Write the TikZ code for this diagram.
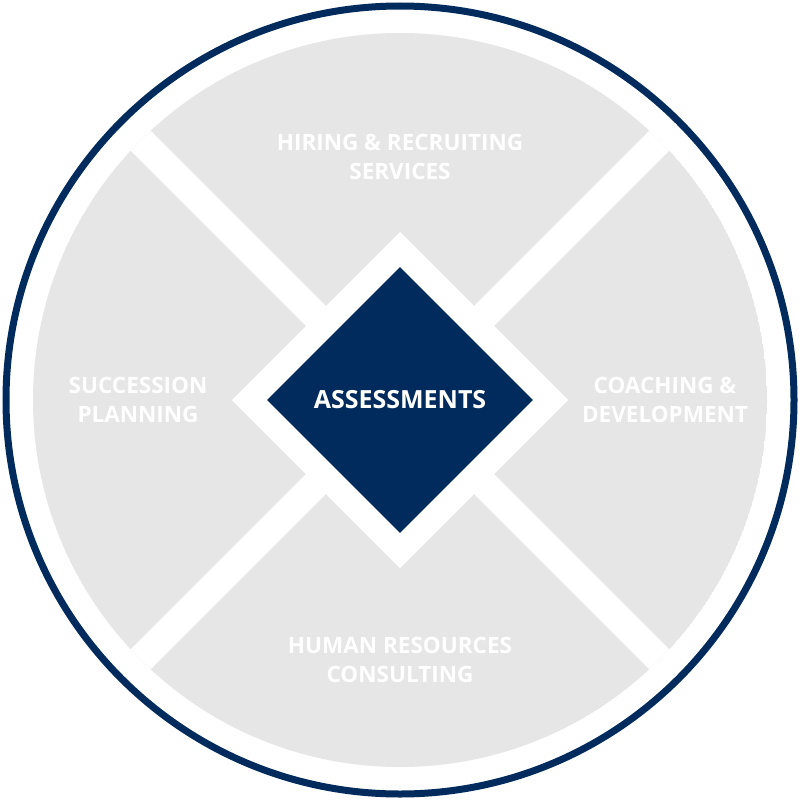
\documentclass[tikz,border=0pt]{standalone}
\usepackage{fontspec}
\setmainfont{Open Sans}
\usetikzlibrary{shapes.geometric}
\definecolor{navy}{RGB}{0,43,92}
\definecolor{pale}{RGB}{230,230,230}
\tikzset{
  lbl/.style={text=white,font=\bfseries\fontsize{22.5}{29}\selectfont,align=center,inner sep=0pt},
}
\begin{document}
\begin{tikzpicture}[x=1pt,y=1pt,yscale=-1]
\useasboundingbox[fill=white] (0,0) rectangle (800,800);
%outer ring
\draw[navy,line width=7pt,fill=white] (400,400) circle (394);
%grey disc with white strips
\begin{scope}
\clip (400,400) circle (367);
\fill[pale] (400,400) circle (367);
\draw[white,line width=28pt] (80,80) -- (720,720);
\draw[white,line width=28pt] (720,80) -- (80,720);
\end{scope}
%white diamond
\fill[white] (400,232) -- (568,400) -- (400,568) -- (232,400) -- cycle;
%centre
\node (core) [diamond,fill=navy,minimum width=266,minimum height=266,inner sep=0pt] at (400,400) {};
\node (assess) [lbl,font=\bfseries\fontsize{25}{29}\selectfont] at (400,400) {ASSESSMENTS};
\node (hire) [lbl] at (400,157) {HIRING \& RECRUITING\\SERVICES};
\node (plan) [lbl] at (138,400) {SUCCESSION\\PLANNING};
\node (coach) [lbl] at (665,400) {COACHING \&\\DEVELOPMENT};
\node (hr) [lbl] at (400,660) {HUMAN RESOURCES\\CONSULTING};
\end{tikzpicture}
\end{document}
